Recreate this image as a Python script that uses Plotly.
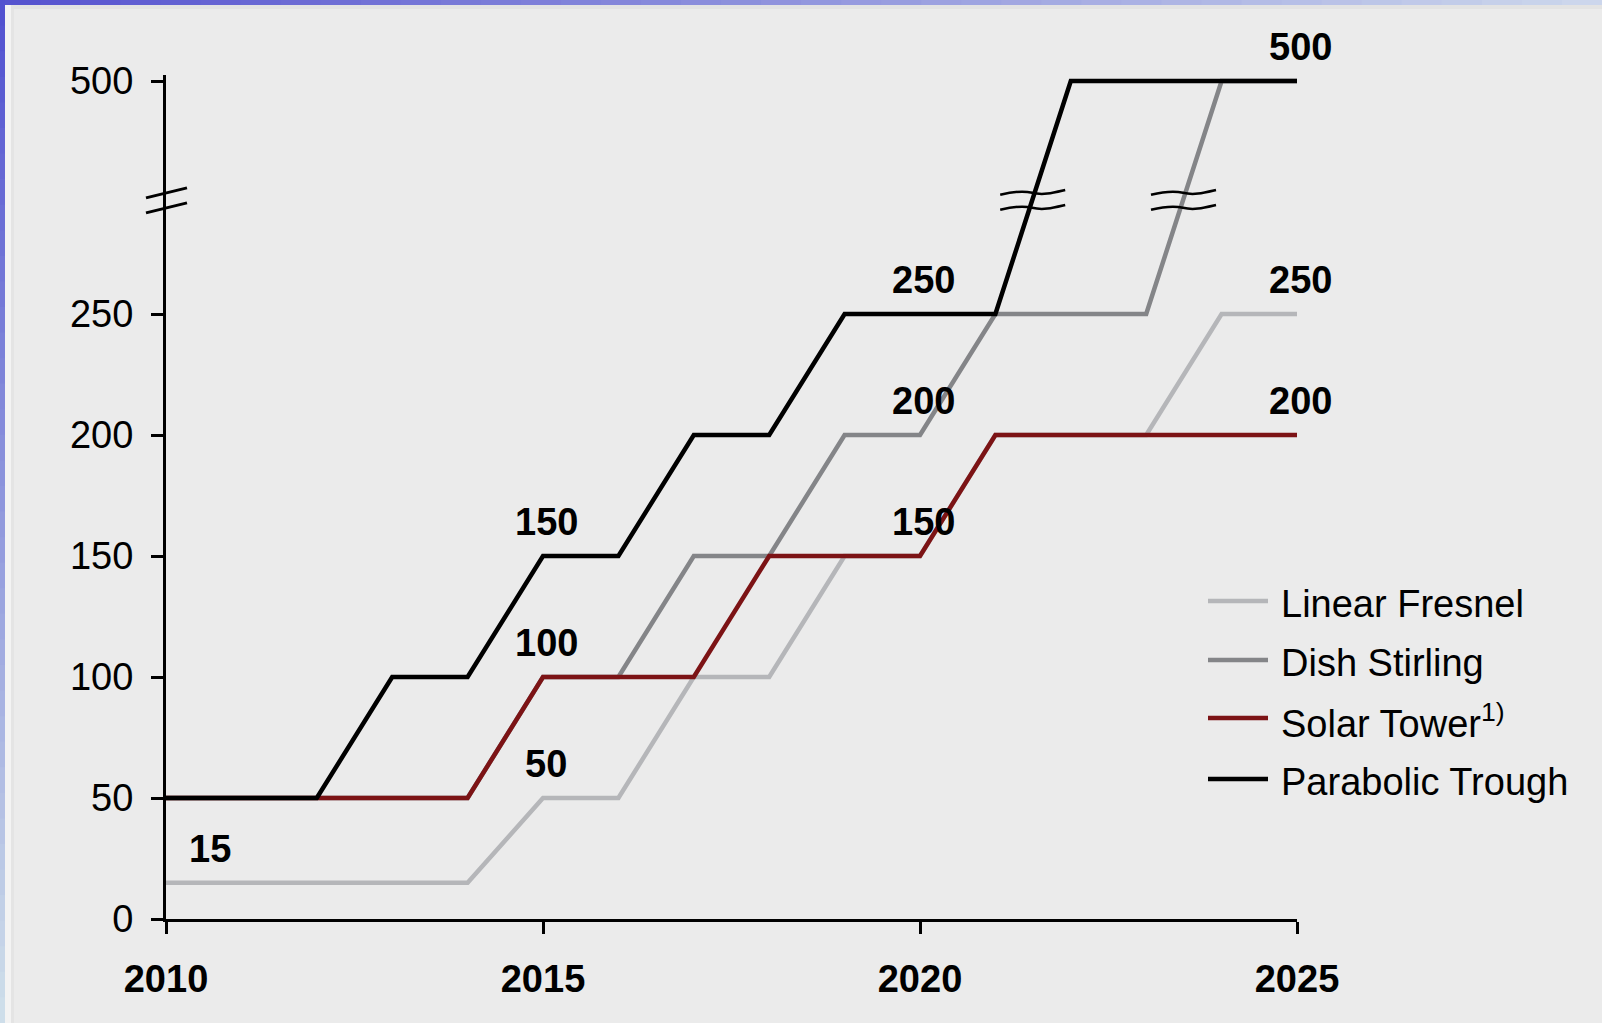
import numpy as np
import plotly.graph_objects as go

# ---------------- data ----------------
years = list(range(2010, 2026))
series_names = ["Linear Fresnel", "Dish Stirling", "Solar Tower<sup>1)</sup>", "Parabolic Trough"]
linear_fresnel = [15, 15, 15, 15, 15, 50, 50, 100, 100, 150, 150, 200, 200, 200, 250, 250]
dish_stirling = [50, 50, 50, 50, 50, 100, 100, 150, 150, 200, 200, 250, 250, 250, 500, 500]
solar_tower = [50, 50, 50, 50, 50, 100, 100, 100, 150, 150, 150, 200, 200, 200, 200, 200]
parabolic_trough = [50, 50, 50, 100, 100, 150, 150, 200, 200, 250, 250, 250, 500, 500, 500, 500]
series_colors = ["#b5b6b9", "#848588", "#7c1315", "#000000"]

y_tick_values = [0, 50, 100, 150, 200, 250, 500]
x_tick_values = [2010, 2015, 2020, 2025]

label_text = ["15", "50", "100", "150", "150", "200", "250", "500", "250", "200"]
label_x = [2010.55, 2015, 2015, 2015, 2020, 2020, 2020, 2025, 2025, 2025]
label_y = [15, 50, 100, 150, 150, 200, 250, 500, 250, 200]

# broken axis: values above 250 are compressed
BREAK_START = 250
BREAK_FACTOR = 0.385
BREAK_MARK_VALUE = 372  # real value where the break symbol sits


def to_axis(v):
    v = np.asarray(v, dtype=float)
    return np.where(v <= BREAK_START, v, BREAK_START + (v - BREAK_START) * BREAK_FACTOR)


# ---------------- layout geometry (pixels) ----------------
W, H = 1602, 1023
ML, MR, MT, MB = 166, 305, 75, 104
PW, PH = W - ML - MR, H - MT - MB
PX_PER_UNIT = 2.42
Y_TOP = PH / PX_PER_UNIT


def px2paper_x(px):
    return (px - ML) / PW


def px2paper_y(py):
    return (H - MB - py) / PH


FONT = "Liberation Sans, Arial, sans-serif"
FS = 38

fig = go.Figure()
all_series = [linear_fresnel, dish_stirling, solar_tower, parabolic_trough]
for name, vals, col in zip(series_names, all_series, series_colors):
    fig.add_trace(go.Scatter(
        x=years, y=to_axis(vals), mode="lines", name=name,
        line=dict(color=col, width=4.5), showlegend=False, hoverinfo="skip",
    ))

# value labels
for t, xv, yv in zip(label_text, label_x, label_y):
    fig.add_annotation(
        x=xv, y=float(to_axis(yv)), text=f"<b>{t}</b>", showarrow=False,
        xanchor="center", yanchor="middle", yshift=34, xshift=3,
        font=dict(family=FONT, size=FS, color="#000000"),
    )

shapes = []
brk = float(to_axis(BREAK_MARK_VALUE))
brk_py = H - MB - brk * PX_PER_UNIT  # pixel row of the break

# y-axis break marks (two slanted strokes), paper-referenced so they are not clipped
for dy in (-7.5, 7.5):
    shapes.append(dict(
        type="line", xref="paper", yref="paper",
        x0=px2paper_x(ML - 20), x1=px2paper_x(ML + 21),
        y0=px2paper_y(brk_py + dy + 5), y1=px2paper_y(brk_py + dy - 5),
        line=dict(color="#000000", width=3),
    ))


def wave_path(dy):
    pts = [(-32, 2), (-20, -1), (-10, -2.5), (0, 0), (11, 2.7), (21, 0), (33, -2.8)]
    p = [(x, -(y + dy)) for x, y in pts]
    s = f"M{p[0][0]},{p[0][1]} C{p[1][0]},{p[1][1]} {p[2][0]},{p[2][1]} {p[3][0]},{p[3][1]}"
    s += f" C{p[4][0]},{p[4][1]} {p[5][0]},{p[5][1]} {p[6][0]},{p[6][1]}"
    return s


# break marks on series that cross the break
for vals in (parabolic_trough, dish_stirling):
    yd = to_axis(vals)
    for i in range(len(years) - 1):
        if yd[i] < brk <= yd[i + 1]:
            xc = years[i] + (brk - yd[i]) / (yd[i + 1] - yd[i])
            for dy in (-7.5, 7.5):
                shapes.append(dict(
                    type="path", xref="x", yref="y", xsizemode="pixel", ysizemode="pixel",
                    xanchor=xc, yanchor=brk, path=wave_path(dy),
                    line=dict(color="#000000", width=2.5),
                ))

# manual legend
leg_rows_px = [601, 660, 718, 779]
for name, col, ypx in zip(series_names, series_colors, leg_rows_px):
    shapes.append(dict(
        type="line", xref="paper", yref="paper",
        x0=px2paper_x(1208), x1=px2paper_x(1268), y0=px2paper_y(ypx), y1=px2paper_y(ypx),
        line=dict(color=col, width=4.5),
    ))
    fig.add_annotation(
        xref="paper", yref="paper", x=px2paper_x(1279), y=px2paper_y(ypx + 3),
        text=name, showarrow=False, xanchor="left", yanchor="middle",
        font=dict(family=FONT, size=FS, color="#000000"),
    )


# slide frame gradient edges
def lerp_col(c0, c1, t):
    a = [int(c0[i:i + 2], 16) for i in (1, 3, 5)]
    b = [int(c1[i:i + 2], 16) for i in (1, 3, 5)]
    return "rgb(%d,%d,%d)" % tuple(round(a[k] + (b[k] - a[k]) * t) for k in range(3))


N = 40
for i in range(N):
    xa, xb = W * i / N, W * (i + 1) / N
    shapes.append(dict(
        type="rect", xref="paper", yref="paper", layer="above",
        x0=px2paper_x(xa), x1=px2paper_x(xb + 1), y0=px2paper_y(5), y1=px2paper_y(0),
        fillcolor=lerp_col("#5552cf", "#cdd8ec", (i + 0.5) / N), line=dict(width=0),
    ))
    ya, yb = H * i / N, H * (i + 1) / N
    shapes.append(dict(
        type="rect", xref="paper", yref="paper", layer="above",
        x0=px2paper_x(0), x1=px2paper_x(5), y0=px2paper_y(yb + 1), y1=px2paper_y(ya),
        fillcolor=lerp_col("#5050d0", "#d0e0ea", (i + 0.5) / N), line=dict(width=0),
    ))
shapes.append(dict(type="rect", xref="paper", yref="paper", layer="below",
                   x0=px2paper_x(5), x1=px2paper_x(W), y0=px2paper_y(9), y1=px2paper_y(5),
                   fillcolor="#e3e3e3", line=dict(width=0)))
shapes.append(dict(type="rect", xref="paper", yref="paper", layer="below",
                   x0=px2paper_x(5), x1=px2paper_x(11), y0=px2paper_y(H), y1=px2paper_y(5),
                   fillcolor="#f3f3f3", line=dict(width=0)))
shapes.append(dict(type="rect", xref="paper", yref="paper", layer="below",
                   x0=px2paper_x(11), x1=px2paper_x(14), y0=px2paper_y(H), y1=px2paper_y(9),
                   fillcolor="#e4e4e4", line=dict(width=0)))

fig.update_layout(
    width=W, height=H,
    margin=dict(l=ML, r=MR, t=MT, b=MB, autoexpand=False),
    paper_bgcolor="#ebebeb", plot_bgcolor="#ebebeb",
    shapes=shapes,
    font=dict(family=FONT, size=FS, color="#000000"),
    xaxis=dict(
        range=[2010, 2025], showgrid=False, zeroline=False,
        showline=True, linecolor="#000000", linewidth=3,
        ticks="outside", ticklen=12, tickwidth=3, tickcolor="#000000",
        tickvals=x_tick_values, ticktext=[f"<b>{v}</b>" for v in x_tick_values],
        ticklabelstandoff=12, tickfont=dict(family=FONT, size=FS),
    ),
    yaxis=dict(
        range=[0, Y_TOP], showgrid=False, zeroline=False,
        showline=True, linecolor="#000000", linewidth=3,
        ticks="outside", ticklen=12, tickwidth=3, tickcolor="#000000",
        tickvals=list(to_axis(y_tick_values)), ticktext=[str(v) for v in y_tick_values],
        ticklabelstandoff=10, tickfont=dict(family=FONT, size=FS),
    ),
)

fig.write_html("out.html")
